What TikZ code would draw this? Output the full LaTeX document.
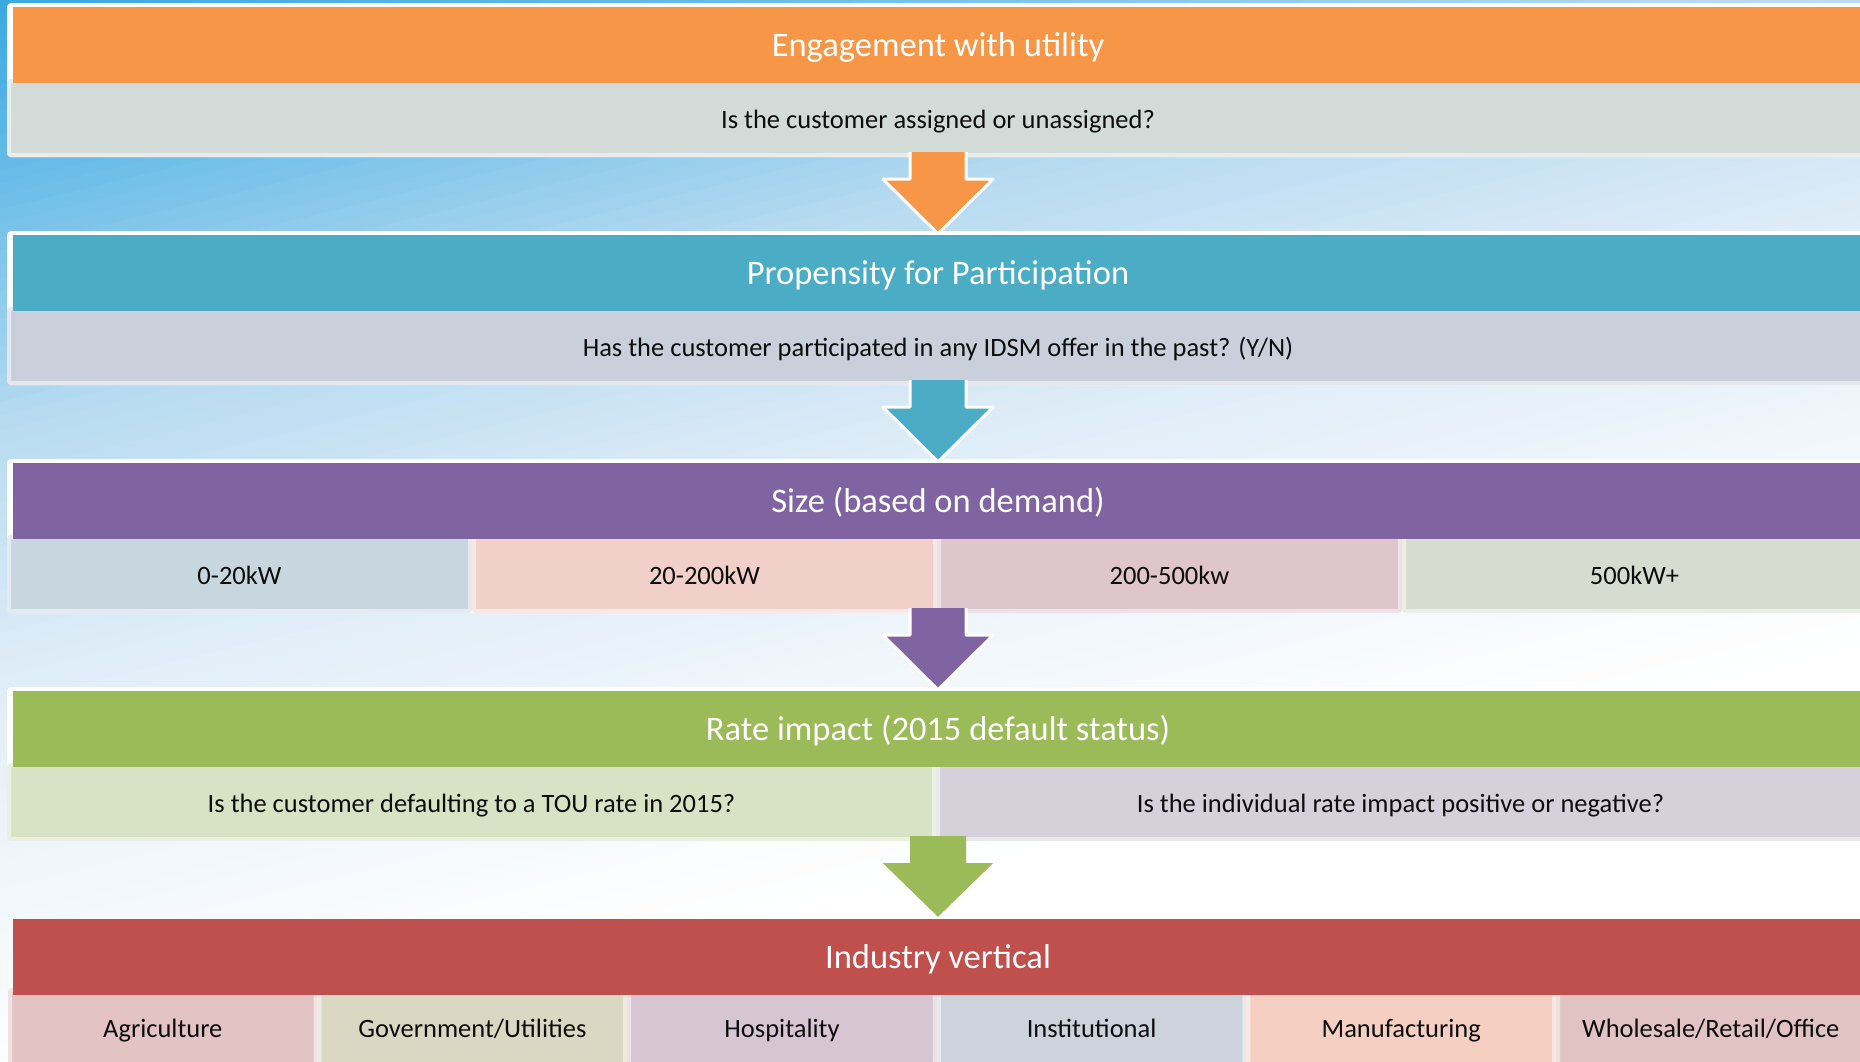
\documentclass[tikz,border=0pt]{standalone}
\usepackage{fontspec}
\setmainfont{Carlito}
\usetikzlibrary{calc}

% header colours
\definecolor{hdOrange}{HTML}{F79646}
\definecolor{hdTeal}{HTML}{4BACC6}
\definecolor{hdPurple}{HTML}{8064A2}
\definecolor{hdGreen}{HTML}{9BBB59}
\definecolor{hdRed}{HTML}{C0504D}
% cell colours
\definecolor{cGrayGreen}{HTML}{D2DBD7}
\definecolor{cLavGray}{HTML}{CACFDC}
\definecolor{cSizeA}{HTML}{C8D6E0}
\definecolor{cSizeB}{HTML}{F0D0C8}
\definecolor{cSizeC}{HTML}{DFC5CC}
\definecolor{cSizeD}{HTML}{D6DDD0}
\definecolor{cRateA}{HTML}{D8E3C5}
\definecolor{cRateB}{HTML}{D4D1DA}
\definecolor{cIndA}{HTML}{E3C3C3}
\definecolor{cIndB}{HTML}{DAD8C2}
\definecolor{cIndC}{HTML}{D7C5D3}
\definecolor{cIndD}{HTML}{CDD3DC}
\definecolor{cIndE}{HTML}{F6CFC3}
\definecolor{cIndF}{HTML}{E2C3C3}
% sky background stops
\definecolor{bgA}{RGB}{58,168,224}
\definecolor{bgB}{RGB}{110,190,232}
\definecolor{bgC}{RGB}{181,218,240}
\definecolor{bgD}{RGB}{220,235,247}
\definecolor{bgE}{RGB}{240,246,252}
\definecolor{bgF}{RGB}{255,255,255}

\tikzset{
  bandframe/.style={fill=white, rounded corners=4pt, minimum width=1864pt,
    minimum height=154pt, inner sep=0pt},
  header/.style={fill=#1, text=white, font=\fontsize{34.5}{40}\selectfont,
    text height=26pt, text depth=3pt,
    minimum width=1850pt, minimum height=76pt, inner sep=0pt},
  cell/.style={fill=#1, draw=#1!50!white, line width=4pt, rounded corners=2pt,
    minimum height=74pt, inner sep=0pt, text=black!95,
    text height=22pt, text depth=1pt,
    font=\fontsize{26.5}{30}\selectfont},
  arrowline/.style={draw=white, line width=3pt, line join=round},
}

% block arrow hanging below one band and pointing at the next header
\newcommand\blockarrow[4]{%
  \path[#3] let \p1=($(#1.south)+(0,-5)$), \p2=($(#2.north)+(0,#4)$) in
    (\x2-28pt,\y1) -- (\x2-28pt,\y1-27pt) -- (\x2-55pt,\y1-27pt) -- (\x2,\y2)
    -- (\x2+55pt,\y1-27pt) -- (\x2+28pt,\y1-27pt) -- (\x2+28pt,\y1);
}

\begin{document}
\begin{tikzpicture}[x=1pt,y=-1pt]
\useasboundingbox (0,0) rectangle (1860,1061);
\clip (0,0) rectangle (1860,1061);

% sky gradient, running from the upper left corner to white
\fill[white] (0,0) rectangle (1860,1061);
\foreach \sa/\sb/\ca/\cb in {0/800/bgA/bgB, 800/1700/bgB/bgC, 1700/2650/bgC/bgD,
                             2650/3580/bgD/bgE, 3580/4500/bgE/bgF}{
  \foreach \i in {0,...,15}{
    \pgfmathsetmacro\lo{\sa+(\sb-\sa)*\i/16}
    \pgfmathsetmacro\hi{\sa+(\sb-\sa)*(\i+1)/16+2}
    \pgfmathtruncatemacro\pc{(\i+0.5)*100/16}
    \fill[\cb!\pc!\ca] (\lo,0) -- (\hi,0) -- (\hi-4340,1061) -- (\lo-4340,1061) -- cycle;
  }
}

% band frames
\node[bandframe] (f1) at (939,80) {};
\node[bandframe] (f2) at (939,308) {};
\node[bandframe] (f3) at (939,536) {};
\node[bandframe] (f4) at (939,764) {};

% band 1
\node[cell=cGrayGreen, minimum width=1858pt] (r1) at (938,118) {Is the customer assigned or unassigned?};
\node[header=hdOrange] (h1) at (938,45) {Engagement with utility};

% band 2
\node[cell=cLavGray, minimum width=1858pt] (r2) at (938,346) {Has the customer participated in any IDSM offer in the past? (Y/N)};
\node[header=hdTeal] (h2) at (938,273) {Propensity for Participation};

% band 3
\node[cell=cSizeA, minimum width=461pt] (s1) at (239.5,574) {0-20kW};
\node[cell=cSizeB, minimum width=461pt] (s2) at (704.5,574) {20-200kW};
\node[cell=cSizeC, minimum width=461pt] (s3) at (1169.5,574) {200-500kw};
\node[cell=cSizeD, minimum width=461pt] (s4) at (1634.5,574) {500kW+};
\node[header=hdPurple] (h3) at (938,501) {Size (based on demand)};

% band 4
\node[cell=cRateA, minimum width=925pt] (q1) at (471.5,802) {Is the customer defaulting to a TOU rate in 2015?};
\node[cell=cRateB, minimum width=925pt] (q2) at (1400.5,802) {Is the individual rate impact positive or negative?};
\node[header=hdGreen] (h4) at (938,729) {Rate impact (2015 default status)};

% band 5
\node[cell=cIndA, minimum width=305.6pt] (i1) at (162.8,1027) {Agriculture};
\node[cell=cIndB, minimum width=305.6pt] (i2) at (472.4,1027) {Government/Utilities};
\node[cell=cIndC, minimum width=305.6pt] (i3) at (782,1027) {Hospitality};
\node[cell=cIndD, minimum width=305.6pt] (i4) at (1091.6,1027) {Institutional};
\node[cell=cIndE, minimum width=305.6pt] (i5) at (1401.2,1027) {Manufacturing};
\node[cell=cIndF, minimum width=305.6pt] (i6) at (1710.8,1027) {Wholesale/Retail/Office};
\node[header=hdRed] (h5) at (938,957) {Industry vertical};

% arrows between the bands
\blockarrow{f1}{h2}{arrowline, fill=hdOrange}{-1}
\blockarrow{f2}{h3}{arrowline, fill=hdTeal}{-1}
\blockarrow{f3}{h4}{arrowline, fill=hdPurple}{-1}
\blockarrow{f4}{h5}{fill=hdGreen}{-2}
\end{tikzpicture}
\end{document}
